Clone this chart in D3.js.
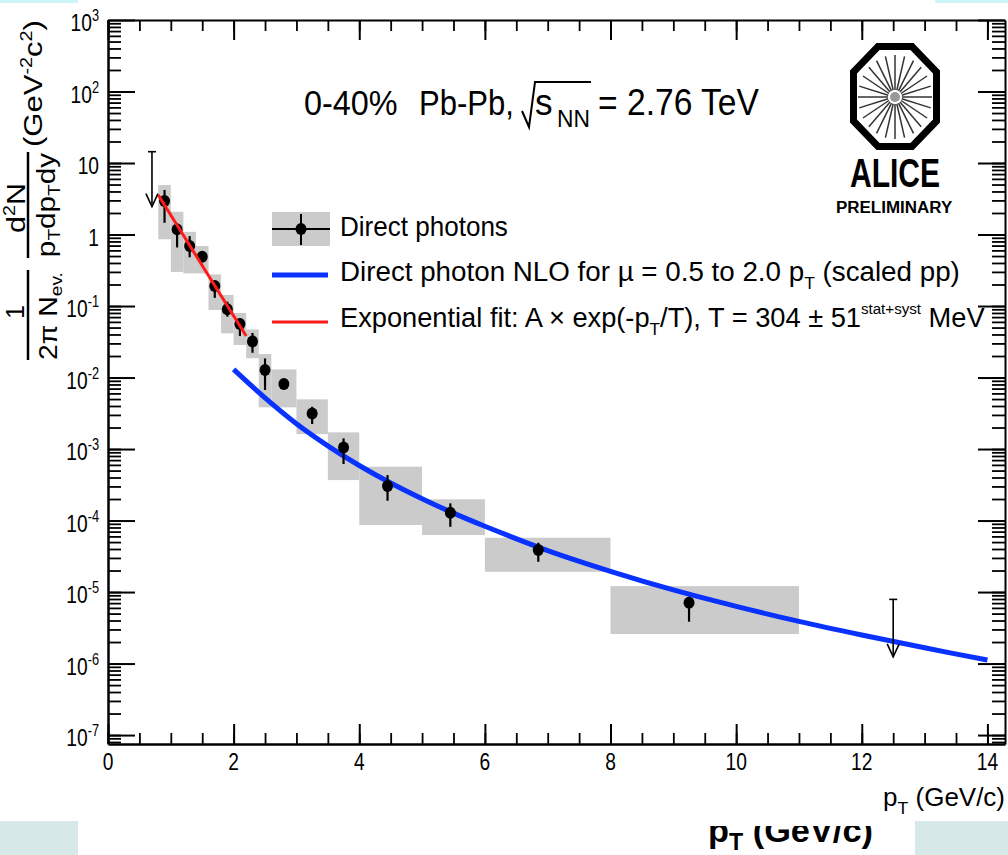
<!DOCTYPE html>
<html><head><meta charset="utf-8">
<script src="https://cdn.jsdelivr.net/npm/d3@7"></script>
<style>
body{margin:0;background:#fff}
svg{display:block}
text{font-family:"Liberation Sans",Arial,Helvetica,sans-serif;white-space:pre}
</style>
</head><body>
<svg id="c" width="1008" height="855"></svg>
<script>
// ---------------- data ----------------
const binLow  = [0.8,1.0,1.2,1.4,1.6,1.8,2.0,2.2,2.4,2.6,3.0,3.5,4.0,5.0,6.0,8.0];
const binHigh = [1.0,1.2,1.4,1.6,1.8,2.0,2.2,2.4,2.6,3.0,3.5,4.0,5.0,6.0,8.0,11.0];
const ptCenter = [0.9,1.1,1.3,1.5,1.7,1.9,2.1,2.3,2.5,2.8,3.25,3.75,4.45,5.45,6.85,9.25];
const yieldVal = [2.94,1.18,0.69,0.49,0.19,0.090,0.056,0.032,0.0127,0.0081,0.00315,0.00105,0.000304,0.000129,3.86e-5,7.1e-6];
const statHigh = [4.19,1.45,0.95,0.56,0.22,0.115,0.068,0.042,0.0185,0.0095,0.0039,0.00141,0.000432,0.000174,4.89e-5,8.6e-6];
const statLow  = [1.46,0.66,0.48,0.42,0.13,0.071,0.038,0.0222,0.0067,0.0068,0.00224,0.000617,0.000189,8.18e-5,2.65e-5,3.85e-6];
const systHigh = [4.92,2.08,1.09,0.69,0.277,0.143,0.080,0.047,0.0213,0.013,0.00495,0.00171,0.000566,0.000198,5.75e-5,1.21e-5];
const systLow  = [0.857,0.30,0.286,0.286,0.088,0.0415,0.0285,0.0186,0.00383,0.00383,0.00162,0.000368,8.65e-5,6.27e-5,1.92e-5,2.59e-6];

const ulPt  = [0.7, 12.5];
const ulTop = [14.4, 7.9e-6];
const ulTip = [2.45, 1.24e-6];

const nloPt  = [2,2.5,3,3.5,4,4.5,5,5.5,6,7,8,9,10,11,12,13,14];
const nloVal = [1.30e-2,5.19e-3,2.26e-3,1.11e-3,5.89e-4,3.35e-4,2.02e-4,1.27e-4,8.32e-5,3.80e-5,1.95e-5,1.07e-5,6.31e-6,3.89e-6,2.51e-6,1.66e-6,1.12e-6];

const fitPt  = [0.8, 2.2];
const fitVal = [3.57, 0.038];

const xTickValues = [0,2,4,6,8,10,12,14];
const xTickLabels = ["0","2","4","6","8","10","12","14"];
const yTickValues = [1e-7,1e-6,1e-5,1e-4,1e-3,1e-2,1e-1,1,10,100,1000];
const yTickLabels = [["10","-7"],["10","-6"],["10","-5"],["10","-4"],["10","-3"],["10","-2"],["10","-1"],["1",""],["10",""],["10","2"],["10","3"]];

// ---------------- setup ----------------
const W = 1008, H = 855;
const svg = d3.select("#c");
svg.append("rect").attr("width", W).attr("height", H).attr("fill", "#fff");

const x = d3.scaleLinear().domain([0, 14.28]).range([108, 1005]);
const y = d3.scaleLog().domain([7.5e-8, 1000]).range([744, 20]);

// slide decorations
[[0,0,78,3,"#cff6f6"],[935,0,73,3,"#cff6f6"],[0,821,78,34,"#d6e8e8"],[915,821,93,34,"#d6e8e8"]]
  .forEach(r => svg.append("rect").attr("x", r[0]).attr("y", r[1]).attr("width", r[2]).attr("height", r[3]).attr("fill", r[4]));

// text helper: segments with baseline offsets, optional fitted width
function addText(parent, o) {
  const g = parent.append("g").attr("transform", `translate(${o.x},${o.y})` + (o.rot ? ` rotate(${o.rot})` : ""));
  const inner = g.append("g");
  const t = inner.append("text")
    .attr("text-anchor", o.anchor || "start")
    .attr("font-size", o.size)
    .attr("font-weight", o.weight || "normal")
    .attr("fill", o.fill || "#000");
  if (o.family) t.attr("font-family", o.family);
  let off = 0;
  (o.segs || [{t: o.text}]).forEach(s => {
    const ts = t.append("tspan").text(s.t);
    if (s.size) ts.attr("font-size", s.size);
    const target = s.dy || 0;
    if (target !== off) { ts.attr("dy", target - off); off = target; }
  });
  let sx = o.sx || 1;
  if (o.width) { const bb = t.node().getBBox(); if (bb.width > 0) sx = o.width / bb.width; }
  inner.attr("transform", `scale(${sx},1)`);
  return t;
}

// bottom slide text (clipped by chart image above)
svg.append("clipPath").attr("id", "bclip").append("rect").attr("x", 0).attr("y", 826).attr("width", W).attr("height", 40);
const bg = svg.append("g").attr("clip-path", "url(#bclip)");
addText(bg, {x: 708, y: 842, size: 34, weight: "bold", width: 165,
  segs: [{t: "p"}, {t: "T", size: 23, dy: 8}, {t: " (GeV/c)"}]});

// ---------------- axes ----------------
const minorY = [];
for (let e = -8; e <= 2; e++) for (let m = 1; m <= 9; m++) {
  const v = m * Math.pow(10, e);
  if (v >= 7.5e-8 && v <= 1000) minorY.push(v);
}
const minorX = d3.range(0, 14.26, 0.5);

function axisPair(axisFn, scale, pos, minorVals, majorVals, minorLen, majorLen, domW) {
  svg.append("g").attr("transform", pos)
    .call(axisFn(scale).tickValues(minorVals).tickSize(-minorLen).tickSizeOuter(0).tickFormat(""))
    .call(g => g.selectAll("line").attr("stroke-width", 1.8))
    .call(g => g.select(".domain").attr("stroke-width", domW));
  svg.append("g").attr("transform", pos)
    .call(axisFn(scale).tickValues(majorVals).tickSize(-majorLen).tickSizeOuter(0).tickFormat(""))
    .call(g => g.selectAll("line").attr("stroke-width", 2))
    .call(g => g.select(".domain").remove());
}
axisPair(d3.axisLeft, y, "translate(108,0)", minorY, yTickValues, 13, 27, 2.5);
axisPair(d3.axisRight, y, "translate(1005,0)", minorY, yTickValues, 13, 27, 2);
axisPair(d3.axisBottom, x, "translate(0,744)", minorX, xTickValues, 11, 20, 2.5);
axisPair(d3.axisTop, x, "translate(0,20)", minorX, xTickValues, 11, 20, 2);

// tick labels
yTickValues.forEach((v, i) => {
  const [b, e] = yTickLabels[i];
  const segs = [{t: b}];
  if (e) segs.push({t: e, size: 16, dy: -10});
  addText(svg, {x: 99, y: y(v) + 11, size: 24, anchor: "end", sx: 0.8, segs});
});
xTickValues.forEach((v, i) => {
  addText(svg, {x: x(v), y: 770, size: 24, anchor: "middle", sx: 0.8, text: xTickLabels[i]});
});

// x title
addText(svg, {x: 1005, y: 806, size: 25, anchor: "end", width: 122,
  segs: [{t: "p"}, {t: "T", size: 17, dy: 8}, {t: " (GeV/c)"}]});

// y title (rotated pieces)
addText(svg, {x: 24, y: 312, rot: -90, size: 25, anchor: "middle", text: "1"});
addText(svg, {x: 57, y: 316, rot: -90, size: 25, anchor: "middle", width: 88,
  segs: [{t: "2π N"}, {t: "ev.", size: 17, dy: 5}]});
addText(svg, {x: 25, y: 208, rot: -90, size: 25, anchor: "middle", width: 50,
  segs: [{t: "d"}, {t: "2", size: 16, dy: -10}, {t: "N"}]});
addText(svg, {x: 55, y: 205, rot: -90, size: 25, anchor: "middle", width: 105,
  segs: [{t: "p"}, {t: "T", size: 16, dy: 5}, {t: "dp"}, {t: "T", size: 16, dy: 5}, {t: "dy"}]});
addText(svg, {x: 42, y: 83.5, rot: -90, size: 25, anchor: "middle", width: 127,
  segs: [{t: "(GeV"}, {t: "-2", size: 16, dy: -10}, {t: "c"}, {t: "2", size: 16, dy: -10}, {t: ")"}]});
svg.append("line").attr("x1", 28).attr("x2", 28).attr("y1", 270).attr("y2", 360).attr("stroke", "#000").attr("stroke-width", 2.5);
svg.append("line").attr("x1", 28).attr("x2", 28).attr("y1", 152).attr("y2", 258).attr("stroke", "#000").attr("stroke-width", 2.5);

// ---------------- data marks ----------------
const idx = d3.range(ptCenter.length);
const plot = svg.append("g");
plot.selectAll("rect.syst").data(idx).join("rect").attr("class", "syst")
  .attr("x", i => x(binLow[i])).attr("width", i => x(binHigh[i]) - x(binLow[i]))
  .attr("y", i => y(systHigh[i])).attr("height", i => y(systLow[i]) - y(systHigh[i]))
  .attr("fill", "#cbcbcb");

plot.append("path").datum(d3.range(nloPt.length))
  .attr("d", d3.line().x(i => x(nloPt[i])).y(i => y(nloVal[i])).curve(d3.curveCatmullRom))
  .attr("fill", "none").attr("stroke", "#0a32ff").attr("stroke-width", 5);

plot.selectAll("line.stat").data(idx).join("line").attr("class", "stat")
  .attr("x1", i => x(ptCenter[i])).attr("x2", i => x(ptCenter[i]))
  .attr("y1", i => y(statHigh[i])).attr("y2", i => y(statLow[i]))
  .attr("stroke", "#000").attr("stroke-width", 2.2);
plot.selectAll("ellipse.pt").data(idx).join("ellipse").attr("class", "pt")
  .attr("cx", i => x(ptCenter[i])).attr("cy", i => y(yieldVal[i]))
  .attr("rx", 5.5).attr("ry", 6).attr("fill", "#000");

plot.append("path").datum(d3.range(fitPt.length))
  .attr("d", d3.line().x(i => x(fitPt[i])).y(i => y(fitVal[i])))
  .attr("fill", "none").attr("stroke", "#ff1a1a").attr("stroke-width", 3);

// upper limits
ulPt.forEach((p, i) => {
  const cx = x(p), t = y(ulTop[i]), b = y(ulTip[i]);
  const g = plot.append("g").attr("stroke", "#000").attr("stroke-width", 1.6).attr("fill", "none");
  g.append("line").attr("x1", cx).attr("x2", cx).attr("y1", t).attr("y2", b);
  g.append("line").attr("x1", cx - 4).attr("x2", cx + 4).attr("y1", t).attr("y2", t);
  g.append("path").attr("d", `M${cx - 6},${b - 13}L${cx},${b}L${cx + 6},${b - 13}`);
});

// ---------------- legend ----------------
const lg = svg.append("g");
lg.append("rect").attr("x", 272).attr("y", 212).attr("width", 58).attr("height", 34).attr("fill", "#cbcbcb");
lg.append("line").attr("x1", 272).attr("x2", 330).attr("y1", 229).attr("y2", 229).attr("stroke", "#000").attr("stroke-width", 2);
lg.append("line").attr("x1", 301).attr("x2", 301).attr("y1", 214).attr("y2", 245).attr("stroke", "#000").attr("stroke-width", 2);
lg.append("ellipse").attr("cx", 301).attr("cy", 229).attr("rx", 5.5).attr("ry", 6).attr("fill", "#000");
lg.append("line").attr("x1", 272).attr("x2", 328).attr("y1", 275).attr("y2", 275).attr("stroke", "#0a32ff").attr("stroke-width", 5);
lg.append("line").attr("x1", 272).attr("x2", 328).attr("y1", 322).attr("y2", 322).attr("stroke", "#ff1a1a").attr("stroke-width", 3);

addText(lg, {x: 340, y: 236, size: 27, width: 168, text: "Direct photons"});
addText(lg, {x: 340, y: 281, size: 27, width: 620,
  segs: [{t: "Direct photon NLO for µ = 0.5 to 2.0 p"}, {t: "T", size: 17, dy: 8}, {t: " (scaled pp)"}]});
addText(lg, {x: 340, y: 327, size: 27, width: 645,
  segs: [{t: "Exponential fit: A × exp(-p"}, {t: "T", size: 17, dy: 8}, {t: "/T), T = 304 ± 51"},
         {t: "stat+syst", size: 15, dy: -13}, {t: " MeV"}]});

// ---------------- title ----------------
addText(svg, {x: 304, y: 115, size: 36, sx: 0.9, text: "0-40%"});
addText(svg, {x: 419, y: 115, size: 36, width: 95, text: "Pb-Pb,"});
svg.append("path").attr("d", "M522,111L529,127L535,82L591,82").attr("fill", "none").attr("stroke", "#000").attr("stroke-width", 2);
addText(svg, {x: 535, y: 115, size: 37, sx: 0.95, text: "s"});
addText(svg, {x: 557, y: 127, size: 24, width: 33, text: "NN"});
addText(svg, {x: 598, y: 115, size: 36, width: 161, text: "= 2.76 TeV"});

// ---------------- ALICE logo ----------------
const logo = svg.append("g");
logo.append("path")
  .attr("d", "M878,46.5L912,46.5L936.5,72L936.5,121L912,146.5L878,146.5L853.5,121L853.5,72Z")
  .attr("fill", "none").attr("stroke", "#000").attr("stroke-width", 7).attr("stroke-linejoin", "miter");
const lc = [895, 97];
d3.range(24).forEach(k => {
  const a = k * Math.PI / 12;
  const r1 = 7, rx = 37, ry = 42;
  logo.append("line")
    .attr("x1", lc[0] + r1 * Math.cos(a)).attr("y1", lc[1] + r1 * Math.sin(a))
    .attr("x2", lc[0] + rx * Math.cos(a)).attr("y2", lc[1] + ry * Math.sin(a))
    .attr("stroke", "#333").attr("stroke-width", 1.5);
});
logo.append("circle").attr("cx", lc[0]).attr("cy", lc[1]).attr("r", 5).attr("fill", "#999");
addText(logo, {x: 850, y: 187, size: 40, weight: "bold", family: "DejaVu Sans Mono", width: 90, text: "ALICE"});
addText(logo, {x: 836, y: 213, size: 17, weight: "bold", family: "DejaVu Sans Mono", width: 117, text: "PRELIMINARY"});
</script>
</body></html>
